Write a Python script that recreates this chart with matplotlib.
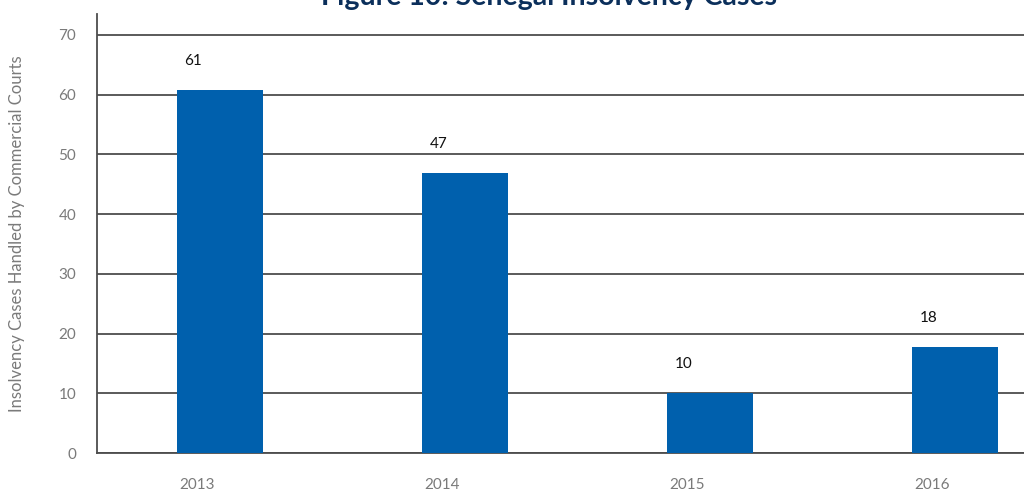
import matplotlib
matplotlib.use("Agg")
import matplotlib.pyplot as plt

# data
years = ["2013", "2014", "2015", "2016"]
cases = [61, 47, 10, 18]
bar_tops = [60.7, 46.9, 10.0, 17.7]   # bars are drawn to these heights in the picture

BAR_COLOR = "#0060ad"
GRID_COLOR = "#4d4d4d"
TEXT_GRAY = "#7a7a7a"

plt.rcParams["font.family"] = ["Lato", "DejaVu Sans"]

fig = plt.figure(figsize=(10.24, 4.9), dpi=100)
ax = fig.add_axes([97 / 1024, 1 - 453 / 490, 1 - 97 / 1024, (453 - 14) / 490])

pos = list(range(len(years)))
ax.bar(pos, bar_tops, width=0.35, color=BAR_COLOR, zorder=3)

for x, v, h in zip(pos, cases, bar_tops):
    ax.annotate(str(v), (x, h), xytext=(-19, 16), textcoords="offset points",
                ha="center", va="bottom", fontsize=11, color="#111111")

ax.set_xlim(-0.5, 3.28)
ax.set_ylim(0, 73.5)
ax.set_yticks(range(0, 71, 10))
ax.yaxis.grid(True, color=GRID_COLOR, linewidth=1.3, zorder=0)
ax.set_axisbelow(True)

# year labels sit a little left of the bar centres in the reference
ax.set_xticks([p - 0.093 for p in pos])
ax.set_xticklabels(years)

ax.tick_params(axis="both", length=0, labelsize=11, labelcolor=TEXT_GRAY)
ax.tick_params(axis="y", pad=15)
ax.tick_params(axis="x", pad=18)

for s in ["top", "right"]:
    ax.spines[s].set_visible(False)
for s in ["left", "bottom"]:
    ax.spines[s].set_color(GRID_COLOR)
    ax.spines[s].set_linewidth(1.3)

ax.set_ylabel("Insolvency Cases Handled by Commercial Courts", fontsize=12,
              color=TEXT_GRAY, labelpad=24)

# the title is cropped at the top edge in the reference
fig.text(549 / 1024, 1 - 5 / 490, "Figure 10: Senegal Insolvency Cases",
         ha="center", va="baseline", fontsize=20.5, fontweight="bold", color="#0b2f5b")

fig.savefig("out.png", dpi=100)
